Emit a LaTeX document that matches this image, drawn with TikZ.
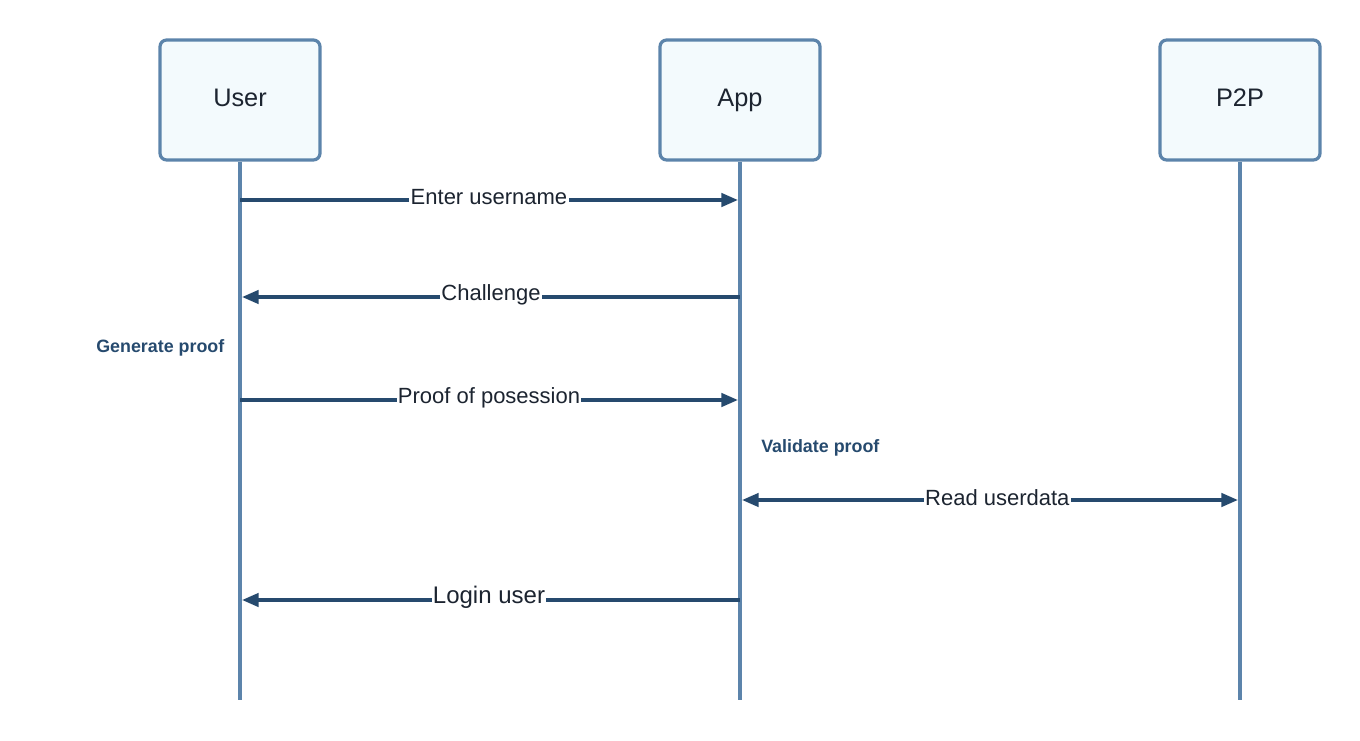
\documentclass[tikz,border=0pt]{standalone}
\usepackage{fontspec}
\setmainfont{Liberation Sans}
\usetikzlibrary{arrows.meta}
\definecolor{boxline}{HTML}{5C84AB}
\definecolor{boxfill}{HTML}{F3FAFD}
\definecolor{msg}{HTML}{264A6E}
\definecolor{txt}{HTML}{1C2430}
\definecolor{note}{HTML}{264A6E}
\tikzset{
  actor/.style={draw=boxline, fill=boxfill, line width=2.4pt, rounded corners=5pt,
    minimum width=120pt, minimum height=90pt, inner sep=0pt,
    text height=14pt, text depth=4pt,
    font=\fontsize{19pt}{22pt}\selectfont, text=txt},
  life/.style={draw=boxline, line width=2.4pt},
  tip/.style={-{Triangle[length=12.5pt,width=10pt]}},
  msgline/.style={draw=msg, line width=2.6pt, tip},
  bimsg/.style={draw=msg, line width=2.6pt, {Triangle[length=12.5pt,width=10pt]}-{Triangle[length=12.5pt,width=10pt]}},
  lbl/.style={fill=white, inner sep=1pt, text=txt, font=\fontsize{16.5pt}{19pt}\selectfont},
  notelbl/.style={text=note, font=\bfseries\fontsize{13.4pt}{15pt}\selectfont, inner sep=0pt}
}
\begin{document}
\begin{tikzpicture}[x=0.75pt,y=-0.75pt]
\useasboundingbox (0,0) rectangle (1360,741);
% actors
\node[actor] (user) at (240,100) {User};
\node[actor] (app) at (740,100) {App};
\node[actor] (p2p) at (1240,100) {P2P};
% lifeline ends
\coordinate (userE) at (240,700);
\coordinate (appE) at (740,700);
\coordinate (p2pE) at (1240,700);
\draw[life] (user.south) -- (userE);
\draw[life] (app.south) -- (appE);
\draw[life] (p2p.south) -- (p2pE);
% message anchors
\coordinate (u1) at (240,200); \coordinate (a1) at (738,200);
\coordinate (a2) at (740,297); \coordinate (u2) at (242,297);
\coordinate (u3) at (240,400); \coordinate (a3) at (738,400);
\coordinate (a4) at (742,500); \coordinate (p4) at (1238,500);
\coordinate (a5) at (740,600); \coordinate (u5) at (242,600);
\draw[msgline] (u1) -- node[lbl,yshift=2pt] (m1) {Enter username} (a1);
\draw[msgline] (a2) -- node[lbl,yshift=2pt] (m2) {Challenge} (u2);
\draw[msgline] (u3) -- node[lbl,yshift=2pt] (m3) {Proof of posession} (a3);
\draw[bimsg] (a4) -- node[lbl,xshift=5.5pt,yshift=2pt] (m4) {Read userdata} (p4);
\draw[msgline] (a5) -- node[lbl,xshift=-1.5pt,yshift=2pt,font=\fontsize{18pt}{21pt}\selectfont] (m5) {Login user} (u5);
% notes
\node[notelbl, anchor=west] (n1) at (96,348) {Generate proof};
\node[notelbl, anchor=west] (n2) at (761,448) {Validate proof};
\end{tikzpicture}
\end{document}
